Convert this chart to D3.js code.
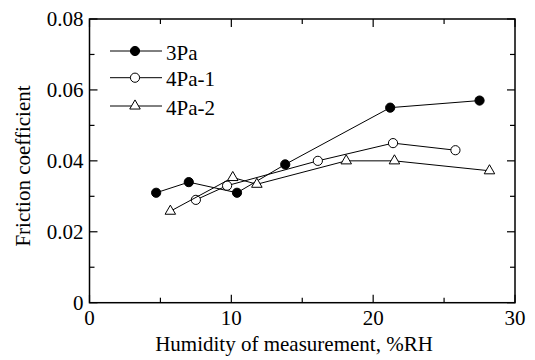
<!DOCTYPE html>
<html>
<head>
<meta charset="utf-8">
<script src="https://cdn.jsdelivr.net/npm/d3@7"></script>
<style>
  body { margin: 0; background: #fff; }
  svg { display: block; }
</style>
</head>
<body>
<svg id="chart" width="535" height="360">
  <!-- static title: puts the serif face in use before the script draws -->
  <text x="294" y="351" text-anchor="middle" font-family="Liberation Serif" font-size="21" fill="#000">Humidity of measurement, %RH</text>
</svg>
<script>
// Data
const seriesNames = ['3Pa', '4Pa-1', '4Pa-2'];
const humidity3Pa = [4.7, 7.0, 10.4, 13.8, 21.2, 27.5];
const friction3Pa = [0.031, 0.034, 0.031, 0.039, 0.055, 0.057];
const humidity4Pa1 = [7.5, 9.7, 16.1, 21.4, 25.8];
const friction4Pa1 = [0.029, 0.033, 0.040, 0.045, 0.043];
const humidity4Pa2 = [5.7, 10.1, 11.8, 18.1, 21.5, 28.2];
const friction4Pa2 = [0.0258, 0.0353, 0.0334, 0.0400, 0.0400, 0.0372];
const xTicks = [0, 10, 20, 30];
const yTicks = [0, 0.02, 0.04, 0.06, 0.08];

const svg = d3.select('#chart');
const margin = { left: 89.5, right: 20, top: 19, bottom: 57.3 };
const width = 535, height = 360;

const x = d3.scaleLinear().domain([0, 30]).range([margin.left, width - margin.right]);
const y = d3.scaleLinear().domain([0, 0.08]).range([height - margin.bottom, margin.top]);

const series = [
    { name: seriesNames[0], xs: humidity3Pa, ys: friction3Pa, marker: 'filled' },
    { name: seriesNames[1], xs: humidity4Pa1, ys: friction4Pa1, marker: 'open' },
    { name: seriesNames[2], xs: humidity4Pa2, ys: friction4Pa2, marker: 'triangle' }
];

const fontSize = 21;
function label(parent, tx, ty, str, anchor) {
    return parent.append('text')
        .attr('x', tx).attr('y', ty)
        .attr('text-anchor', anchor)
        .attr('font-family', 'Liberation Serif')
        .attr('font-size', fontSize)
        .attr('fill', '#000')
        .text(str);
}

// Frame
svg.append('rect')
    .attr('x', x(0)).attr('y', y(0.08))
    .attr('width', x(30) - x(0)).attr('height', y(0) - y(0.08))
    .attr('fill', 'none').attr('stroke', '#000').attr('stroke-width', 1.5);

// Inward ticks on all four sides
const majorLen = 8, minorLen = 5;
const xMinor = d3.range(0, 31, 5);
const yMinor = d3.range(0, 9).map(i => i * 0.01);
const tickG = svg.append('g').attr('stroke', '#000').attr('stroke-width', 1.2);
xMinor.forEach(v => {
    const len = xTicks.includes(v) ? majorLen : minorLen;
    tickG.append('line').attr('x1', x(v)).attr('x2', x(v)).attr('y1', y(0)).attr('y2', y(0) - len);
    tickG.append('line').attr('x1', x(v)).attr('x2', x(v)).attr('y1', y(0.08)).attr('y2', y(0.08) + len);
});
yMinor.forEach(v => {
    const major = Math.round(v * 100) % 2 === 0;
    const len = major ? majorLen : minorLen;
    tickG.append('line').attr('x1', x(0)).attr('x2', x(0) + len).attr('y1', y(v)).attr('y2', y(v));
    tickG.append('line').attr('x1', x(30)).attr('x2', x(30) - len).attr('y1', y(v)).attr('y2', y(v));
});

// Tick labels
const xLab = svg.append('g');
xTicks.forEach(d => label(xLab, x(d), y(0) + 22.3, d, 'middle'));
const yLab = svg.append('g');
yTicks.forEach(d => label(yLab, x(0) - 6, y(d) + 7, d === 0 ? '0' : d.toFixed(2), 'end'));

// Y axis title (x title is static in the markup)
const yTitle = svg.append('g').attr('transform', 'rotate(-90)');
label(yTitle, -166, 30, 'Friction coefficient', 'middle');

// Lines and markers
const line = d3.line().x(d => x(d[0])).y(d => y(d[1]));
const triangle = d3.symbol().type(d3.symbolTriangle).size(48);

function drawMarker(g, marker, cx, cy) {
    if (marker === 'triangle') {
        g.append('path').attr('d', triangle())
            .attr('transform', `translate(${cx},${cy})`)
            .attr('fill', '#fff').attr('stroke', '#000').attr('stroke-width', 1);
    } else {
        g.append('circle').attr('cx', cx).attr('cy', cy).attr('r', 4.6)
            .attr('fill', marker === 'filled' ? '#000' : '#fff')
            .attr('stroke', '#000').attr('stroke-width', 1);
    }
}

series.forEach(s => {
    const pts = s.xs.map((v, i) => [v, s.ys[i]]);
    svg.append('path').datum(pts)
        .attr('d', line)
        .attr('fill', 'none').attr('stroke', '#000').attr('stroke-width', 1);
    const g = svg.append('g');
    pts.forEach(p => drawMarker(g, s.marker, x(p[0]), y(p[1])));
});

// Legend
const legendRows = [51, 77.7, 106];
series.forEach((s, i) => {
    const ly = legendRows[i];
    const g = svg.append('g');
    g.append('line').attr('x1', 110).attr('x2', 162).attr('y1', ly).attr('y2', ly)
        .attr('stroke', '#000').attr('stroke-width', 1);
    drawMarker(g, s.marker, 135, ly);
    label(g, 166, ly + 8.7, s.name, 'start');
});
</script>
</body>
</html>
